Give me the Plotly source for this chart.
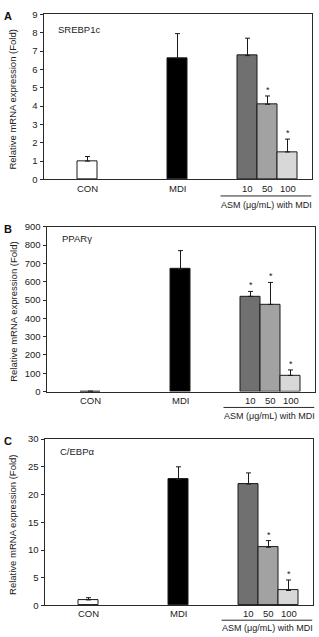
import plotly.graph_objects as go

# ---- data ----
categories = ["CON", "MDI", "10", "50", "100"]
srebp1c_mean = [1.0, 6.6, 6.75, 4.1, 1.5]
srebp1c_err = [0.25, 1.35, 0.95, 0.45, 0.7]
srebp1c_sig = [False, False, False, True, True]

pparg_mean = [1, 668, 520, 476, 88]
pparg_err = [1, 102, 27, 120, 30]
pparg_sig = [False, False, True, True, True]

cebpa_mean = [1.0, 22.7, 21.9, 10.5, 2.7]
cebpa_err = [0.4, 2.3, 2.0, 1.2, 1.9]
cebpa_sig = [False, False, False, True, True]

bar_colors = ["#ffffff", "#000000", "#707070", "#a2a2a2", "#d8d8d8"]
y_title = "Relative mRNA expression (Fold)"
group_label = "ASM (μg/mL) with MDI"

W, H = 319, 637
FONT = "Liberation Sans, Arial, sans-serif"
pos = [0, 4.5, 8, 9, 10]
XR = [-2.2, 11.2]

panels = [
    dict(letter="A", name="SREBP1c", mean=srebp1c_mean, err=srebp1c_err, sig=srebp1c_sig,
         ymax=9, dtick=1, x=(43.5, 311.5), y=(8.5, 176.5), name_xy=(56, 24),
         tick_y=186, line_y=193.3, lab_y=202.7),
    dict(letter="B", name="PPARγ", mean=pparg_mean, err=pparg_err, sig=pparg_sig,
         ymax=900, dtick=100, x=(46.5, 314.5), y=(224.7, 392.3), name_xy=(60, 236.7),
         tick_y=401.7, line_y=408.5, lab_y=417),
    dict(letter="C", name="C/EBPα", mean=cebpa_mean, err=cebpa_err, sig=cebpa_sig,
         ymax=30, dtick=5, x=(44.5, 312.5), y=(440.7, 610), name_xy=(58, 453.5),
         tick_y=618.5, line_y=625, lab_y=633),
]

fig = go.Figure()
annotations = []
shapes = []

def px_x(v):
    return v / W

def px_y(v):
    return 1 - v / H

for i, p in enumerate(panels):
    n = "" if i == 0 else str(i + 1)
    xa, ya = "x" + n, "y" + n
    fig.add_trace(go.Bar(
        x=pos, y=p["mean"], width=1.0,
        marker=dict(color=bar_colors, line=dict(color="#1a1a1a", width=1)),
        error_y=dict(type="data", symmetric=False, array=p["err"],
                     arrayminus=[0] * len(p["err"]), color="#1a1a1a",
                     thickness=1, width=2.5),
        xaxis=xa, yaxis=ya, showlegend=False, hoverinfo="skip",
    ))
    ax_common = dict(showline=True, linecolor="#2a2a2a", linewidth=1, mirror=True,
                     showgrid=False, zeroline=False)
    fig.layout["xaxis" + n] = dict(
        domain=[px_x(p["x"][0]), px_x(p["x"][1])], range=XR, anchor=ya,
        tickmode="array", tickvals=[], showticklabels=False, ticks="", **ax_common)
    fig.layout["yaxis" + n] = dict(
        domain=[px_y(p["y"][1]), px_y(p["y"][0])], range=[0, p["ymax"]], anchor=xa,
        tick0=0, dtick=p["dtick"], ticks="outside", ticklen=3, tickcolor="#2a2a2a",
        tickfont=dict(family=FONT, size=9.5, color="#222"), **ax_common)

    # x category labels
    for c, xp in zip(categories, pos):
        annotations.append(dict(x=xp, xref=xa, y=px_y(p["tick_y"]), yref="paper",
                                text=c, showarrow=False, xanchor="center", yanchor="middle",
                                font=dict(family=FONT, size=9.5, color="#222")))
    # significance markers
    for xp, m, e, s in zip(pos, p["mean"], p["err"], p["sig"]):
        if s:
            annotations.append(dict(x=xp, xref=xa, y=m + e, yref=ya, text="*",
                                    showarrow=False, xanchor="center", yanchor="bottom",
                                    yshift=-1, font=dict(family=FONT, size=9, color="#222")))
    # group line and label
    shapes.append(dict(type="line", xref=xa, yref="paper", x0=6.65, x1=XR[1],
                       y0=px_y(p["line_y"]), y1=px_y(p["line_y"]),
                       line=dict(color="#2a2a2a", width=1)))
    annotations.append(dict(x=(6.65 + XR[1]) / 2, xref=xa, y=px_y(p["lab_y"]), yref="paper",
                            text=group_label, showarrow=False, xanchor="center", yanchor="middle",
                            font=dict(family=FONT, size=9, color="#222")))
    # gene name
    annotations.append(dict(x=px_x(p["name_xy"][0]), xref="paper", y=px_y(p["name_xy"][1]),
                            yref="paper", text=p["name"], showarrow=False, xanchor="left",
                            yanchor="middle", font=dict(family=FONT, size=9.5, color="#222")))
    # panel letter
    annotations.append(dict(x=px_x(2), xref="paper", y=px_y(p["y"][0] + 2), yref="paper",
                            text="<b>" + p["letter"] + "</b>", showarrow=False, xanchor="left",
                            yanchor="middle", font=dict(family=FONT, size=11, color="#111")))
    # y title
    annotations.append(dict(x=px_x(12.7), xref="paper",
                            y=px_y((p["y"][0] + p["y"][1]) / 2 + 3), yref="paper",
                            text=y_title, textangle=-90, showarrow=False,
                            xanchor="center", yanchor="middle",
                            font=dict(family=FONT, size=9.5, color="#222")))

fig.update_layout(width=W, height=H, margin=dict(l=0, r=0, t=0, b=0),
                  paper_bgcolor="white", plot_bgcolor="white",
                  annotations=annotations, shapes=shapes, bargap=0)
fig.write_html("out.html")
